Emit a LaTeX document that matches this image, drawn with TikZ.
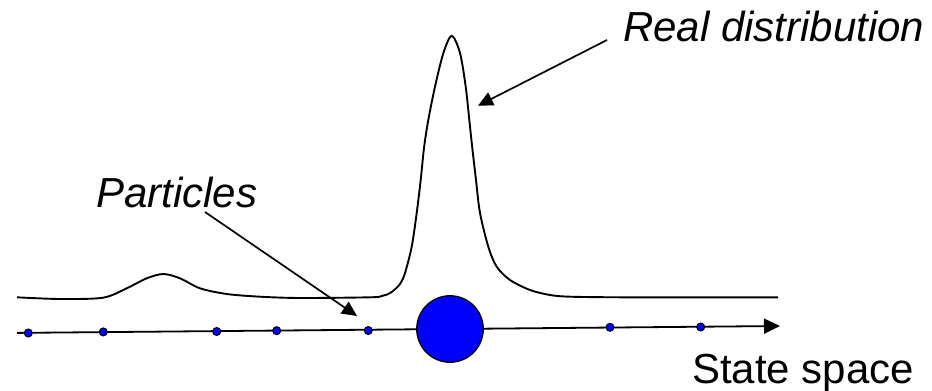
\documentclass[tikz,border=0pt]{standalone}
\usepackage{fontspec}
\setmainfont{Liberation Sans}
\usetikzlibrary{arrows.meta}
\definecolor{dotblue}{RGB}{0,0,255}
\tikzset{
  curveline/.style={line width=1.9pt, line join=round},
  axisline/.style={line width=1.8pt, -{Triangle[length=16pt,width=15pt]}},
  pointer/.style={line width=1.7pt, -{Triangle[length=15pt,width=14pt]}},
  particle/.style={circle, fill=dotblue, draw=black, line width=1pt, minimum size=8pt, inner sep=0pt},
  bigparticle/.style={circle, fill=dotblue, draw=black, line width=1.3pt, minimum size=66.5pt, inner sep=0pt},
  label/.style={inner sep=0pt, anchor=base west, font=\fontsize{42}{50}\selectfont},
}
\begin{document}
\begin{tikzpicture}[x=1pt, y=-1pt]
\useasboundingbox (0,0) rectangle (932,391);
% distribution curve
\draw[curveline] plot[smooth, tension=0.5] coordinates {
 (17,297.3) (60,299) (103,297.7) (126.7,288.3) (146.7,278.3) (163.3,274) (180,278.3)
 (200,288.3) (226.7,294) (260,296.7) (300,298) (370,297.3) (382,296) (391,292.5)
 (400,284) (405,273) (411.7,246.7) (416.7,213) (420.7,180) (424,148) (428.3,120)
 (435,86.7) (443.3,53.3) (451.7,35.7) (460,53) (465.7,86.7) (469.3,120) (472.3,148)
 (476,180) (480,213) (488.3,246.7) (496.7,266.7) (510,280) (530,290) (550,295)
 (570,296.7) (620,297.3) (700,297.3) (778,297.3)};
% state axis
\coordinate (axstart) at (17,332.9);
\coordinate (axend) at (780,326);
\draw[axisline] (axstart) -- (axend);
% particles
\node[particle] (p1) at (28.3,333) {};
\node[particle] (p2) at (103.3,331.9) {};
\node[particle] (p3) at (216.7,331.5) {};
\node[particle] (p4) at (276.7,330.7) {};
\node[particle] (p5) at (368.3,330.5) {};
\node[bigparticle] (big) at (450,329) {};
\node[particle] (p6) at (610,327.3) {};
\node[particle] (p7) at (700.7,327) {};
% labels
\node[label] (real) at (623,41.5) {\itshape Real distribution};
\node[label] (parts) at (96,207) {\itshape Particles};
\node[label] (state) at (692,383) {State space};
% pointers
\coordinate (realtail) at (607,40);
\coordinate (realtip) at (478,105.7);
\draw[pointer] (realtail) -- (realtip);
\coordinate (partstail) at (205,212);
\coordinate (partstip) at (357,316);
\draw[pointer] (partstail) -- (partstip);
\end{tikzpicture}
\end{document}
